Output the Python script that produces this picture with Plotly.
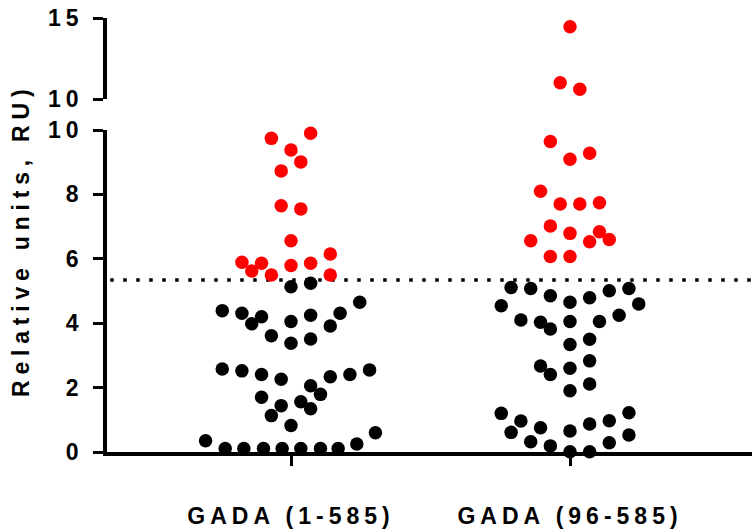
import plotly.graph_objects as go

# ---------------- data ----------------
categories = ["GADA (1-585)", "GADA (96-585)"]
cutoff = 5.34

# group 1 values (RU) and beeswarm slot offsets (in marker half-widths)
g1_vals = [9.74, 9.90, 9.38, 9.01, 8.73, 7.65, 7.55, 6.56, 5.89, 5.86, 5.62, 5.50,
           5.79, 5.86, 6.15, 5.50,
           5.13, 5.24, 4.65, 4.39, 4.31, 4.20, 3.98, 4.05, 4.25, 4.31, 3.91, 3.61,
           3.38, 3.51, 2.58, 2.52, 2.41, 2.26, 2.34, 2.41, 2.55, 2.06, 1.79, 1.70,
           1.56, 1.44, 1.34, 1.13, 0.82, 0.35, 0.60, 0.25,
           0.11, 0.11, 0.11, 0.11, 0.11, 0.11, 0.11]
g1_slot = [-2, 2, 0, 1, -1, -1, 1, 0, -5, -3, -4, -2,
           0, 2, 4, 4,
           0, 2, 7, -7, -5, -3, -4, 0, 2, 5, 4, -2,
           0, 2, -7, -5, -3, -1, 4, 6, 8, 2, 3, -3,
           1, -1, 2, -2, 0, -8.7, 8.6, 6.7,
           -6.7, -4.8, -2.8, -0.9, 1.0, 3.0, 4.8]

g2_vals = [14.46, 11.0, 10.6, 9.64, 9.09, 9.28, 8.10, 7.70, 7.70, 7.74, 7.02, 6.79,
           6.56, 6.53, 6.84, 6.60, 6.07, 6.07,
           5.11, 5.08, 4.85, 4.65, 4.79, 5.01, 5.08, 4.54, 4.60, 4.10, 4.03, 3.82,
           4.05, 4.05, 4.25, 3.34, 3.50, 2.67, 2.41, 2.60, 2.83, 1.90, 2.11, 1.20,
           0.96, 0.61, 0.75, 0.32, 0.19, 0.01, 0.01, 0.65, 0.87, 0.97, 1.22, 0.29,
           0.53]
g2_slot = [0, -1, 1, -2, 0, 2, -3, -1, 1, 3, -2, 0,
           -4, 2, 3, 4, -2, 0,
           -6, -4, -2, 0, 2, 4, 6, -7, 7, -5, -3, -2,
           0, 3, 5, 0, 2, -3, -2, 0, 2, 0, 2, -7,
           -5, -6, -3, -4, -2, 0, 2, 0, 2, 4, 6, 4,
           6]

lower_ticks = [0, 2, 4, 6, 8, 10]
upper_ticks = [10, 15]
break_at = 10

# ---------------- figure ----------------
SLOT = 0.0352   # category units per slot
W, H = 752, 529
ml, mr, mt, mb = 107, 0, 18, 77
ph = H - mt - mb
lower_top = 1 - (130 - mt) / ph
upper_bot = 1 - (99 - mt) / ph

FONT = "Liberation Sans, Arial, sans-serif"


def spaced(s, sp):
    return f'<span style="letter-spacing:{sp}px">{s}</span>'


fig = go.Figure()

for gi, (vals, slots) in enumerate([(g1_vals, g1_slot), (g2_vals, g2_slot)]):
    xs = [gi + 1 + s * SLOT for s in slots]
    for upper in (False, True):
        for red in (True, False):
            px = [x for x, v in zip(xs, vals) if (v > break_at) == upper and (v > cutoff) == red]
            py = [v for v in vals if (v > break_at) == upper and (v > cutoff) == red]
            if not px:
                continue
            fig.add_trace(go.Scatter(
                x=px, y=py, mode="markers",
                marker=dict(size=13.5, color="#FF0000" if red else "#000000",
                            line=dict(width=0)),
                yaxis="y2" if upper else "y",
                cliponaxis=False, showlegend=False, hoverinfo="skip"))

fig.add_shape(type="line", xref="paper", yref="y", x0=0.005, x1=1, y0=cutoff, y1=cutoff,
              line=dict(color="black", width=3.5, dash="3.5px,9.5px"), layer="below")

axis_common = dict(showgrid=False, zeroline=False, showline=True, linecolor="black",
                   ticks="outside", tickcolor="black", ticklen=10, automargin=False,
                   tickfont=dict(family=FONT, size=23, color="black", weight="bold"))

fig.update_layout(
    width=W, height=H,
    margin=dict(l=ml, r=mr, t=mt, b=mb, pad=0, autoexpand=False),
    paper_bgcolor="white", plot_bgcolor="white",
    showlegend=False,
    xaxis=dict(**axis_common, range=[1 - 184 / 279, 2 + 182 / 279],
               tickvals=[1, 2], ticktext=[spaced(c, 5) for c in categories],
               linewidth=4, tickwidth=3, anchor="y", ticklabelstandoff=30),
    yaxis=dict(**axis_common, domain=[0, lower_top], range=[0, 10],
               tickvals=lower_ticks, ticktext=[spaced(str(t), 5) for t in lower_ticks],
               linewidth=3.5, tickwidth=3, anchor="x", ticklabelstandoff=5),
    yaxis2=dict(**axis_common, domain=[upper_bot, 1], range=[10, 15],
                tickvals=upper_ticks, ticktext=[spaced(str(t), 5) for t in upper_ticks],
                linewidth=3.5, tickwidth=3, anchor="x", ticklabelstandoff=5),
)

fig.add_annotation(
    text=spaced("Relative units, RU)", 5.8), textangle=-90,
    xref="paper", yref="paper", x=(21 - ml) / (W - ml - mr), y=(452 - 241) / ph,
    showarrow=False, xanchor="center", yanchor="middle",
    font=dict(family=FONT, size=23, color="black", weight="bold"))

fig.write_html("out.html")
